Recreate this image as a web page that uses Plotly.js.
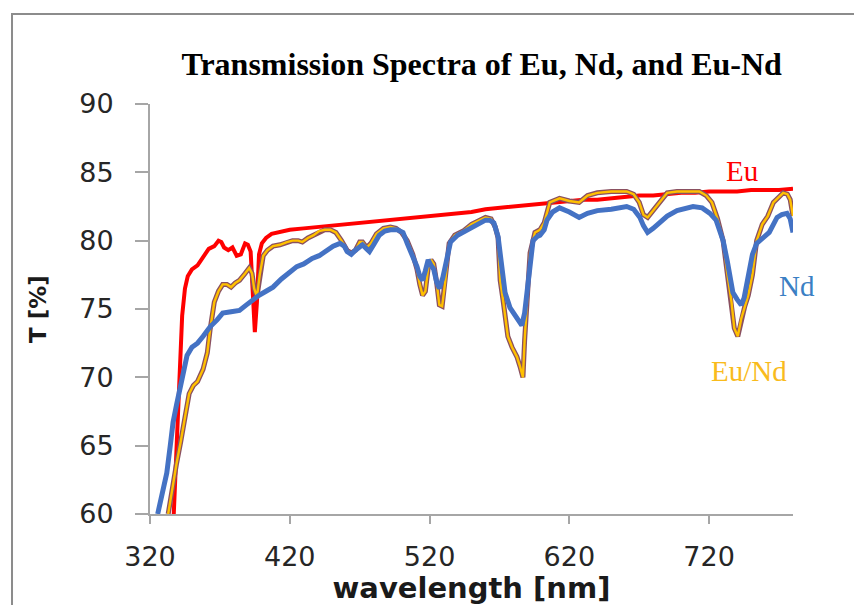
<!DOCTYPE html>
<html>
<head>
<meta charset="utf-8">
<script src="https://cdn.plot.ly/plotly-3.0.1.min.js"></script>
<style>
html,body{margin:0;padding:0;background:#fff;}
#chart{width:854px;height:605px;}
</style>
</head>
<body>
<div id="chart"></div>
<script>
// Eu spectrum: [wavelength nm, T %]
const euPts = [[337,60],[339,65],[341,70.5],[343,74.5],[345,76.5],[347,77.4],[350,77.9],[354,78.2],[358,78.8],[362,79.4],[366,79.6],[369,80.0],[371,79.9],[373,79.5],[376,79.3],[379,79.5],[382,78.9],[385,79.0],[388,79.8],[390,79.7],[392,79.2],[393.5,76.5],[395,73.3],[396.5,75.5],[398,79.0],[400,79.8],[403,80.2],[407,80.5],[412,80.6],[420,80.8],[430,80.9],[440,81.0],[450,81.1],[460,81.2],[470,81.3],[480,81.4],[490,81.5],[500,81.6],[510,81.7],[520,81.8],[530,81.9],[540,82.0],[550,82.1],[560,82.3],[570,82.4],[580,82.5],[590,82.6],[600,82.7],[610,82.8],[620,82.9],[630,83.0],[640,83.0],[650,83.1],[660,83.2],[670,83.3],[680,83.3],[690,83.4],[700,83.5],[710,83.5],[720,83.6],[730,83.6],[740,83.6],[750,83.7],[760,83.7],[770,83.7],[780,83.8]];

// Nd spectrum
const ndPts = [[325.5,60],[329,61.5],[332,63],[334.5,65],[336.5,66.7],[339,68],[341.5,69.1],[344,70.3],[346.5,71.6],[350,72.2],[354,72.5],[358,73.0],[363,73.7],[368,74.2],[372,74.7],[378,74.8],[384,74.9],[389,75.3],[393.5,75.7],[398,76.0],[403,76.3],[408,76.6],[414,77.2],[420,77.7],[425,78.1],[430,78.3],[436,78.7],[441,78.9],[446,79.3],[451,79.6],[456,79.8],[459,79.6],[461,79.2],[464,79.0],[467,79.3],[470,79.6],[472,79.7],[475,79.4],[477,79.2],[480,79.7],[484,80.4],[488,80.7],[492,80.8],[497,80.8],[501,80.6],[504,79.8],[508,78.9],[511,78.1],[513,77.4],[515,77.1],[517,77.8],[519,78.6],[521,78.2],[523,77.9],[525,77.0],[527,76.5],[529.5,77.3],[532,78.6],[535,79.9],[540,80.4],[544,80.6],[550,81.0],[556,81.3],[560,81.5],[563,81.5],[566,81.3],[569,80.3],[571.5,78.3],[574,76.2],[577.5,75.1],[580,74.7],[583,74.2],[586,73.8],[588,74.7],[590.4,77.1],[592,78.6],[594,80.0],[597,80.3],[599,80.4],[602,80.8],[604,81.5],[608,82.1],[613,82.4],[620,82.1],[627,81.7],[633,82.0],[640,82.2],[650,82.3],[661,82.5],[666,82.3],[670.5,81.7],[673,81.1],[676,80.6],[680,80.9],[685,81.3],[690,81.8],[697,82.2],[703,82.4],[708.5,82.5],[715,82.4],[720.6,82.0],[725,81.5],[730,80.0],[733,78.5],[735,77.1],[737,76.2],[740,75.7],[743,75.3],[745,75.8],[747,76.9],[749,78.0],[751,79.0],[754,79.8],[758.6,80.2],[763,80.6],[768.6,81.7],[772,81.9],[775.7,82.0],[778,81.6],[780,80.6]];

// Eu/Nd spectrum
const euNdPts = [[333,60],[336,62],[339,63.7],[342,65.3],[345,67],[348,68.8],[351,69.4],[354,69.7],[358,70.6],[361,71.8],[363,73.5],[366,75.5],[369,76.3],[372,76.8],[375,76.8],[378,76.6],[381,76.9],[384,77.1],[388,77.6],[391,78.0],[393,77.6],[394.5,76.5],[396.5,75.9],[398.5,77.5],[401,78.9],[404,79.3],[408,79.6],[413,79.7],[418,79.9],[422,80.0],[426,80.0],[429,79.9],[433,80.2],[437,80.4],[441,80.7],[445,80.8],[449,80.8],[453,80.6],[457,80.0],[461,79.3],[464,79.1],[467,79.3],[470,79.9],[472,79.9],[475,79.5],[478,79.8],[482,80.5],[487,80.9],[492,81.0],[496,80.9],[500,80.6],[504,80.0],[508,79.0],[511,77.9],[513,76.8],[515,76.0],[517,76.3],[519,78.0],[521,78.6],[523,78.3],[525,77.0],[527,75.3],[529,75.2],[531,76.8],[534,79.8],[538,80.4],[544,80.7],[550,81.2],[556,81.5],[560,81.7],[564,81.6],[567,81.0],[569,80.2],[570.5,77.1],[572.5,75.7],[576,73.0],[579,72.2],[582.5,71.5],[584.7,70.8],[586.8,70.0],[588,72.7],[589.7,75.9],[591.9,79.1],[595.4,80.6],[599,80.8],[602,81.3],[606,82.8],[613,83.1],[620,82.9],[627,82.8],[633,83.3],[640,83.5],[650,83.6],[661,83.6],[666,83.4],[670,82.8],[673,81.9],[676,81.7],[680,82.2],[685,82.8],[690,83.5],[697,83.6],[705,83.6],[713,83.6],[718,83.3],[722,82.8],[726,81.6],[730,80.0],[733,77.6],[736,75.5],[738,73.6],[740.5,73.0],[743,74.3],[745.5,75.2],[748,76.0],[751,77.5],[754,80.0],[758,81.2],[762,81.8],[766,82.8],[770,83.2],[773,83.5],[776,83.4],[778,83.0],[780,81.8]];

const xTicks = [320, 420, 520, 620, 720];
const yTicks = [60, 65, 70, 75, 80, 85, 90];
const seriesLabels = ["Eu", "Nd", "Eu/Nd"];

const xs = p => p.map(d => d[0]);
const ys = p => p.map(d => d[1]);

const traces = [
  {x: xs(euPts), y: ys(euPts), mode: 'lines', name: 'Eu', line: {color: '#ff0000', width: 4}},
  {x: xs(euNdPts), y: ys(euNdPts), mode: 'lines', name: 'Eu/Nd outline', line: {color: '#8a5060', width: 5}, hoverinfo: 'skip'},
  {x: xs(euNdPts), y: ys(euNdPts), mode: 'lines', name: 'Eu/Nd', line: {color: '#ffc000', width: 2.4}},
  {x: xs(ndPts), y: ys(ndPts), mode: 'lines', name: 'Nd', line: {color: '#4472c4', width: 5}}
];

const axisColor = '#a6a6a6';
const tickFont = {family: 'DejaVu Sans', size: 27, color: '#262626'};

const layout = {
  width: 854, height: 605,
  margin: {l: 150, r: 61, t: 104, b: 91},
  paper_bgcolor: '#ffffff', plot_bgcolor: '#ffffff',
  showlegend: false,
  title: {
    text: 'Transmission Spectra of Eu, Nd, and Eu-Nd',
    font: {family: 'Liberation Serif', size: 32, color: '#000000', weight: 'bold'},
    xref: 'container', x: 0.564, xanchor: 'center',
    yref: 'container', y: 0.895, yanchor: 'middle'
  },
  xaxis: {
    range: [320, 780], tickvals: xTicks, ticktext: xTicks.map(String),
    showgrid: false, zeroline: false, showline: true, linecolor: axisColor, linewidth: 2,
    ticks: 'outside', ticklen: 8, tickwidth: 2, tickcolor: axisColor,
    tickfont: tickFont, ticklabelstandoff: 10,
    title: {text: 'wavelength [nm]', font: {family: 'DejaVu Sans', size: 29, color: '#1a1a1a', weight: 'bold'}, standoff: 6}
  },
  yaxis: {
    range: [60, 90], tickvals: yTicks, ticktext: yTicks.map(String),
    showgrid: false, zeroline: false, showline: true, linecolor: axisColor, linewidth: 2,
    ticks: 'outside', ticklen: 13, tickwidth: 2, tickcolor: axisColor,
    tickfont: tickFont, ticklabelstandoff: 16,
    title: {text: 'T [%]', font: {family: 'DejaVu Sans', size: 23, color: '#1a1a1a', weight: 'bold'}, standoff: 26}
  },
  annotations: [
    {x: 743.5, y: 85.1, xref: 'x', yref: 'y', text: seriesLabels[0], showarrow: false,
     xanchor: 'center', yanchor: 'middle',
     font: {family: 'Liberation Serif', size: 29, color: '#ff0000'}},
    {x: 1.006, y: 0.556, xref: 'paper', yref: 'paper', text: seriesLabels[1], showarrow: false,
     xanchor: 'center', yanchor: 'middle',
     font: {family: 'Liberation Serif', size: 29, color: '#3b7fc4'}},
    {x: 748.5, y: 70.5, xref: 'x', yref: 'y', text: seriesLabels[2], showarrow: false,
     xanchor: 'center', yanchor: 'middle',
     font: {family: 'Liberation Serif', size: 29, color: '#f9bb1c'}}
  ],
  shapes: [
    {type: 'rect', xref: 'paper', yref: 'paper', x0: -0.2146, x1: 1.3, y0: -0.6, y1: 1.2195,
     line: {color: '#8c8c8c', width: 2}, fillcolor: 'rgba(0,0,0,0)', layer: 'below'}
  ]
};

Plotly.newPlot('chart', traces, layout, {displayModeBar: false, staticPlot: true});
</script>
</body>
</html>
